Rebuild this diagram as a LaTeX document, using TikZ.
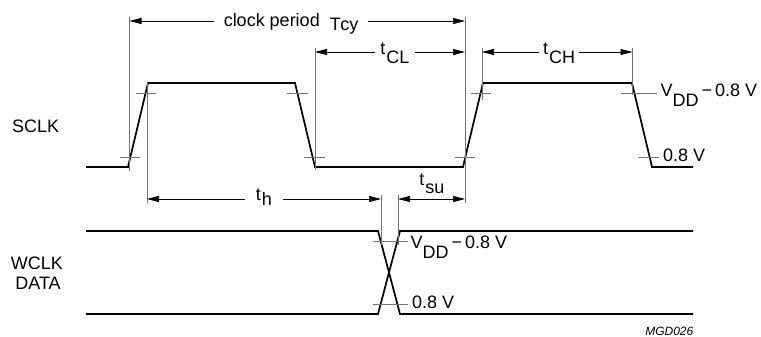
\documentclass[tikz,border=0pt]{standalone}
\usepackage{fontspec}
\setmainfont{Liberation Sans}
\usetikzlibrary{arrows.meta}

\begin{document}
\begin{tikzpicture}[
    x=1pt, y=-1pt,
    >={Triangle[length=12pt,width=6pt]},
    sig/.style={line width=1.7pt},
    ext/.style={draw=black!55, line width=0.7pt},
    thr/.style={draw=black!55, line width=0.7pt},
    dim/.style={<->, line width=0.7pt},
    lbl/.style={font=\fontsize{18}{20}\selectfont, inner sep=0pt},
    dimlbl/.style={lbl, fill=white, inner ysep=0pt}
]
% Levels (SCLK and WCLK/DATA)
\def\sHi{83}
\def\sLo{167}
\def\sVh{93}
\def\sVl{157}
\def\wHi{231}
\def\wLo{314}
\def\wVh{241}
\def\wVl{304}

\useasboundingbox (0,0) rectangle (761,337);

% === SCLK waveform ===
\coordinate (s0) at (86,\sLo);
\coordinate (r1a) at (128,\sLo);
\coordinate (r1b) at (148,\sHi);
\coordinate (f1a) at (295,\sHi);
\coordinate (f1b) at (315,\sLo);
\coordinate (r2a) at (463,\sLo);
\coordinate (r2b) at (483,\sHi);
\coordinate (f2a) at (632,\sHi);
\coordinate (f2b) at (652,\sLo);
\coordinate (s1) at (693,\sLo);
\draw[sig] (s0) -- (r1a) -- (r1b) -- (f1a) -- (f1b) -- (r2a) -- (r2b) -- (f2a) -- (f2b) -- (s1);

% === WCLK / DATA waveform ===
\coordinate (w0h) at (86,\wHi);
\coordinate (w0l) at (86,\wLo);
\coordinate (xah) at (378,\wHi);
\coordinate (xal) at (378,\wLo);
\coordinate (xbh) at (400,\wHi);
\coordinate (xbl) at (400,\wLo);
\coordinate (w1h) at (693,\wHi);
\coordinate (w1l) at (693,\wLo);
\draw[sig] (w0h) -- (xah) -- (xbl) -- (w1l);
\draw[sig] (w0l) -- (xal) -- (xbh) -- (w1h);

% === Extension lines ===
\coordinate (e1t) at (129.5,17);
\coordinate (e1b) at (129.5,171);
\coordinate (e2t) at (147,\sHi);
\coordinate (e2b) at (147,203);
\coordinate (e3t) at (315,48);
\coordinate (e3b) at (315,170);
\coordinate (e4t) at (465,17);
\coordinate (e4b) at (465,203);
\coordinate (e5t) at (482,48);
\coordinate (e5b) at (482,100);
\coordinate (e6t) at (632.5,48);
\coordinate (e6b) at (632.5,95);
\coordinate (e7t) at (381,195);
\coordinate (e7b) at (381,245);
\coordinate (e8t) at (398,195);
\coordinate (e8b) at (398,245);
\draw[ext] (e1t) -- (e1b);
\draw[ext] (e2t) -- (e2b);
\draw[ext] (e3t) -- (e3b);
\draw[ext] (e4t) -- (e4b);
\draw[ext] (e5t) -- (e5b);
\draw[ext] (e6t) -- (e6b);
\draw[ext] (e7t) -- (e7b);
\draw[ext] (e8t) -- (e8b);

% === Threshold ticks ===
\draw[thr] (120,\sVl) coordinate (k1a) -- (140,\sVl) coordinate (k1b);
\draw[thr] (136,\sVh) coordinate (k2a) -- (156,\sVh) coordinate (k2b);
\draw[thr] (287,\sVh) coordinate (k3a) -- (308,\sVh) coordinate (k3b);
\draw[thr] (304,\sVl) coordinate (k4a) -- (325,\sVl) coordinate (k4b);
\draw[thr] (455,\sVl) coordinate (k5a) -- (475,\sVl) coordinate (k5b);
\draw[thr] (471,\sVh) coordinate (k6a) -- (491,\sVh) coordinate (k6b);
\draw[thr] (621,\sVh) coordinate (k7a) -- (657,\sVh) coordinate (k7b);
\draw[thr] (638,\sVl) coordinate (k8a) -- (659,\sVl) coordinate (k8b);
\draw[thr] (373,\wVh) coordinate (k9a) -- (408,\wVh) coordinate (k9b);
\draw[thr] (373,\wVl) coordinate (k10a) -- (408,\wVl) coordinate (k10b);

% === Timing arrows ===
\coordinate (cpL) at (129.5,21);
\coordinate (cpR) at (465,21);
\coordinate (clL) at (315,52);
\coordinate (clR) at (465,52);
\coordinate (chL) at (482,52);
\coordinate (chR) at (632.5,52);
\coordinate (thL) at (147,199);
\coordinate (thR) at (381,199);
\coordinate (suL) at (398,199);
\coordinate (suR) at (465,199);
\draw[dim] (cpL) -- (cpR);
\draw[dim] (clL) -- (clR);
\draw[dim] (chL) -- (chR);
\draw[dim] (thL) -- (thR);
\draw[dim] (suL) -- (suR);

% Arrow labels
\node[dimlbl, inner xsep=10pt, anchor=base] (cp) at (291,26.5)
    {clock period\ \ \raisebox{-0.2em}{T\kern-0.03em cy}};
\node[dimlbl, inner xsep=5pt, anchor=base] (tcl) at (395,55)
    {t\kern1pt\raisebox{-0.45em}{CL}};
\node[dimlbl, inner xsep=4pt, anchor=base] (tch) at (559,55)
    {t\kern1pt\raisebox{-0.45em}{CH}};
\node[dimlbl, inner xsep=11pt, anchor=base] (th) at (264,200.5)
    {t\kern1pt\raisebox{-0.3em}{h}};
\node[lbl, anchor=base] (tsu) at (432,185)
    {t\kern1pt\raisebox{-0.5em}{su}};

% === Signal names ===
\node[lbl, anchor=base west] (sclk) at (12,132) {SCLK};
\node[lbl, anchor=base] (wclk) at (37,269) {WCLK};
\node[lbl, anchor=base] (data) at (38,289) {DATA};

% === Level labels ===
\node[lbl, anchor=base west] (svh) at (660.5,97) {V\raisebox{-0.55em}{DD}\,−\,0.8 V};
\node[lbl, anchor=base west] (svl) at (663,161.5) {0.8 V};
\node[lbl, anchor=base west] (wvh) at (410.5,248.3) {V\raisebox{-0.55em}{DD}\,−\,0.8 V};
\node[lbl, anchor=base west] (wvl) at (412,308) {0.8 V};

% Figure code
\node[lbl, font=\fontsize{12}{14}\selectfont\itshape, anchor=base east] (code) at (693.5,335) {MGD026};

\end{tikzpicture}
\end{document}
